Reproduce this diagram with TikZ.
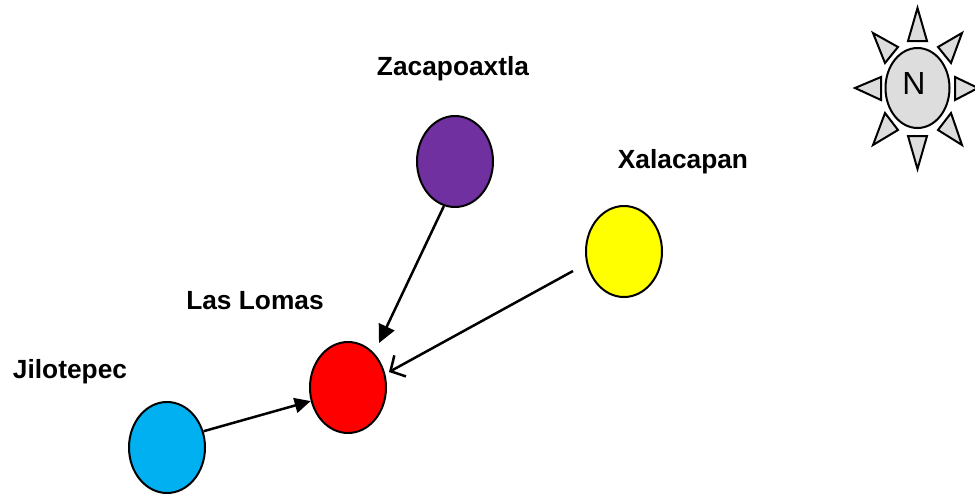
\documentclass[tikz,border=0pt]{standalone}
\usepackage{fontspec}
\setmainfont{Liberation Sans}
\usetikzlibrary{shapes.geometric,arrows.meta}
\definecolor{zacacolor}{RGB}{112,48,160}
\definecolor{xalacolor}{RGB}{255,255,0}
\definecolor{lomascolor}{RGB}{255,0,0}
\definecolor{jilocolor}{RGB}{0,176,240}
\definecolor{compasscolor}{RGB}{221,221,221}
\tikzset{
  town/.style={draw,ellipse,line width=2pt,minimum width=76pt,minimum height=91pt,inner sep=0pt},
  townlabel/.style={font=\fontsize{26.3}{30}\selectfont\bfseries,inner sep=0pt},
  ray/.style={draw,fill=compasscolor,line width=2pt,line join=miter},
  link/.style={line width=2.5pt}
}
\begin{document}
\begin{tikzpicture}[x=1pt,y=-1pt]
  \useasboundingbox (0,0) rectangle (975,493);
  \node[town,fill=zacacolor] (zaca) at (455,161.5) {};
  \node[town,fill=xalacolor] (xala) at (624,251.5) {};
  \node[town,fill=lomascolor] (lomas) at (348,387.5) {};
  \node[town,fill=jilocolor] (jilo) at (167,447.5) {};
  \node[townlabel] (zacalabel) at (453,69) {Zacapoaxtla};
  \node[townlabel] (xalalabel) at (683,162) {Xalacapan};
  \node[townlabel] (lomaslabel) at (255,301) {Las Lomas};
  \node[townlabel] (jilolabel) at (70,372) {Jilotepec};
  \coordinate (xalastart) at (573,271);
  \coordinate (lomastop) at (379,343);
  \coordinate (lomasright) at (389,372);
  \begin{scope}[link]
    \draw[-{Stealth[length=18pt,width=17pt,inset=0pt]}] (zaca.256) -- (lomastop);
    \draw[-{Straight Barb[length=11pt,width=24pt]}] (xalastart) -- (lomasright);
    \draw[-{Stealth[length=16pt,width=15pt,inset=0pt]}] (jilo.24) -- (lomas.200);
  \end{scope}
  % compass
  \node[draw,ellipse,fill=compasscolor,line width=2pt,minimum width=64pt,minimum height=80pt,inner sep=0pt] (north) at (917.5,88) {};
  \node[font=\fontsize{32}{36}\selectfont,inner sep=0pt] (northlabel) at (914,83) {N};
  \draw[ray] (917.5,8) -- (927,41) -- (908,41) -- cycle;
  \draw[ray] (917.5,169) -- (927,136) -- (908,136) -- cycle;
  \draw[ray] (855,88) -- (881,77) -- (881,100) -- cycle;
  \draw[ray] (978,88) -- (955,77) -- (955,100) -- cycle;
  \draw[ray] (873,33) -- (898,47) -- (885,63) -- cycle;
  \draw[ray] (962,33) -- (938,47) -- (951,63) -- cycle;
  \draw[ray] (873,145) -- (898,130) -- (885,113) -- cycle;
  \draw[ray] (962,145) -- (938,130) -- (951,113) -- cycle;
\end{tikzpicture}
\end{document}
